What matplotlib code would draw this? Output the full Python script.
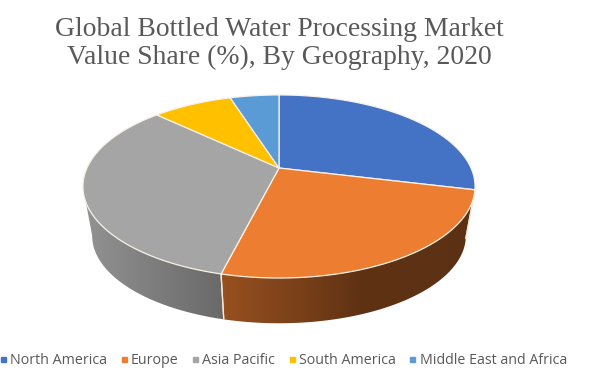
import numpy as np
import matplotlib
matplotlib.use('Agg')
import matplotlib.pyplot as plt
from matplotlib.colors import to_rgb
from matplotlib.lines import Line2D
from matplotlib.patches import Polygon

# data
regions = ['North America', 'Europe', 'Asia Pacific', 'South America', 'Middle East and Africa']
shares = [28.8, 25.1, 33.2, 8.0, 4.9]
colors = ['#4472C4', '#ED7D31', '#A5A5A5', '#FFC000', '#5B9BD5']
title = 'Global Bottled Water Processing Market\nValue Share (%), By Geography, 2020'

# top disc and bottom disc of the 3d pie, in pixels
PERSP = 0.202
TOP = dict(cx=279, cy=168, rx=192, ry=87.8)
BOTTOM = dict(cx=279, cy=218, rx=183, ry=84)

# darkening of the side wall, from left to right
shade_x = [88, 221, 300, 360, 475]
shade_f = [0.88, 0.64, 0.51, 0.40, 0.39]


def rim(theta, disc):
    # theta in degrees, clockwise from 12 o'clock
    t = np.radians(theta)
    u, v = np.sin(t), np.cos(t)
    w = 1 + PERSP * v
    return disc['cx'] + disc['rx'] * u / w, disc['cy'] - disc['ry'] * v / w


fig = plt.figure(figsize=(6.03, 3.79), dpi=100)
ax = fig.add_axes([0, 0, 1, 1])
ax.axis('off')

edges = np.concatenate([[0], np.cumsum(shares)]) / sum(shares) * 360

# side wall first, visible between the two points where the rim turns back
turn = np.degrees(np.arcsin(PERSP))
xs = np.arange(70, 490)
for a, b, col in zip(edges[:-1], edges[1:], colors):
    lo, hi = max(a, 90 + turn), min(b, 270 - turn)
    if lo >= hi:
        continue
    th = np.linspace(lo, hi, 300)
    xt, yt = rim(th, TOP)
    xb, yb = rim(th, BOTTOM)
    # gradient image, cut to the shape of the wall
    f = np.interp(xs, shade_x, shade_f)[None, :, None]
    img = f * np.array(to_rgb(col))[None, None, :]
    im = ax.imshow(img, extent=(70, 490, 340, 160), aspect='auto', interpolation='bilinear', zorder=1)
    wall = Polygon(np.c_[np.r_[xt, xb[::-1]], np.r_[yt, yb[::-1]]], closed=True, transform=ax.transData)
    im.set_clip_path(wall)
    for t in (lo, hi):
        if t in edges:
            xa, ya = rim(t, TOP)
            xc, yc = rim(t, BOTTOM)
            ax.plot([xa, xc], [ya, yc], color='#f4ead8', lw=0.9, solid_capstyle='butt', zorder=2)

# top face
for a, b, col in zip(edges[:-1], edges[1:], colors):
    th = np.linspace(a, b, 200)
    x, y = rim(th, TOP)
    ax.fill(np.r_[TOP['cx'], x], np.r_[TOP['cy'], y], facecolor=col, edgecolor='#f7f1e6', lw=0.9,
            joinstyle='round', zorder=3)

ax.set_xlim(0, 603)
ax.set_ylim(379, 0)

ax.text(279, 43.5, title, ha='center', va='center', fontsize=19.9, color='#595959',
        family='Liberation Serif', linespacing=1.2)

handles = [Line2D([], [], ls='none', marker='s', ms=3.6, color=c) for c in colors]
ax.legend(handles, regions, loc='center', bbox_to_anchor=(283.5 / 603, 1 - 361 / 379), ncol=5, frameon=False,
          prop={'family': 'Open Sans', 'size': 10.3}, labelcolor='#595959', handlelength=0.4,
          handletextpad=0.3, columnspacing=0.96, borderpad=0, borderaxespad=0)

fig.savefig('out.png', dpi=100)
plt.close(fig)
